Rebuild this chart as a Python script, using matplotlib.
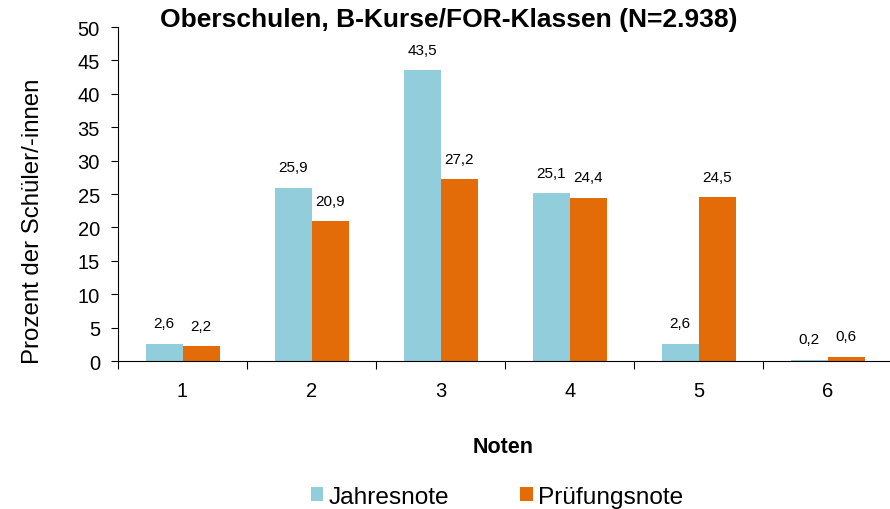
import matplotlib
matplotlib.use("Agg")
import matplotlib.pyplot as plt
import numpy as np

plt.rcParams['font.family'] = ['Liberation Sans', 'DejaVu Sans']

categories = ["1", "2", "3", "4", "5", "6"]
jahresnote = [2.6, 25.9, 43.5, 25.1, 2.6, 0.2]
pruefungsnote = [2.2, 20.9, 27.2, 24.4, 24.5, 0.6]
series_names = ["Jahresnote", "Prüfungsnote"]
colors = ["#92CDDC", "#E36C09"]

fig = plt.figure(figsize=(8.9, 5.1), dpi=100)
ax = fig.add_axes([0.1326, 0.290, 0.870, 0.655])

x = np.arange(len(categories))
w = 0.287
b1 = ax.bar(x - w/2, jahresnote, w, color=colors[0], label=series_names[0])
b2 = ax.bar(x + w/2, pruefungsnote, w, color=colors[1], label=series_names[1])

def fmt(v):
    return f"{v:.1f}".replace(".", ",")

for bars, vals in ((b1, jahresnote), (b2, pruefungsnote)):
    for rect, v in zip(bars, vals):
        ax.annotate(fmt(v), (rect.get_x() + rect.get_width()/2, v),
                    xytext=(0, 15), textcoords="offset points",
                    ha="center", va="center", fontsize=11)

ax.set_xlim(-0.5, len(categories) - 0.5)
ax.set_ylim(0, 50)
ax.set_yticks(np.arange(0, 51, 5))
ax.tick_params(axis='y', labelsize=14.5, length=5, direction='out', pad=8)
ax.set_xticks(np.arange(-0.5, len(categories), 1.0))
ax.set_xticklabels([])
ax.set_xticks(x, minor=True)
ax.set_xticklabels(categories, minor=True)
ax.tick_params(axis='x', which='major', length=6, direction='out')
ax.tick_params(axis='x', which='minor', length=0, labelsize=14.5, pad=14)

for s in ("top", "right"):
    ax.spines[s].set_visible(False)

ax.set_ylabel("Prozent der Schüler/-innen", fontsize=17.3)
ax.yaxis.set_label_coords(-0.095, 0.42)
ax.set_xlabel("Noten", fontsize=15.5, fontweight="bold", va="center")
ax.xaxis.set_label_coords((503 - 118) / 774, (362 - 447) / 334)
fig.text(0.504, 0.961, "Oberschulen, B-Kurse/FOR-Klassen (N=2.938)",
         ha="center", va="center", fontsize=19, fontweight="bold")

fig.legend(handles=[b1, b2], labels=series_names, loc="center",
           bbox_to_anchor=(0.558, 0.024), ncol=2, frameon=False,
           fontsize=17.6, handlelength=0.53, handleheight=0.53,
           columnspacing=2.9, handletextpad=0.2)

fig.savefig("out.png", dpi=100)
